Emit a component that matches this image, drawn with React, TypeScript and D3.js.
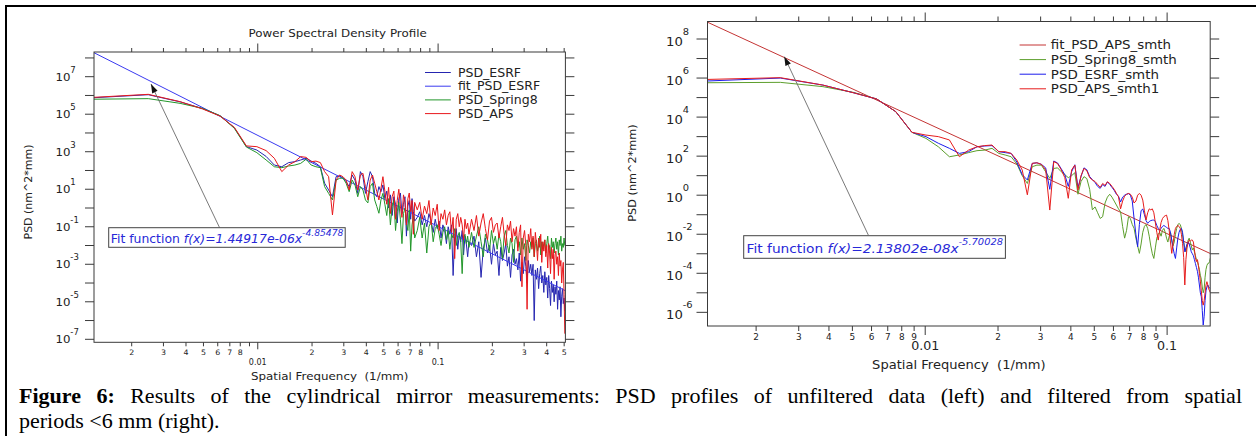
import React, { useMemo } from 'react';
import * as d3 from 'd3';

const SANS = "'DejaVu Sans', Verdana, sans-serif";
const SERIF = "'Liberation Serif', 'Times New Roman', serif";

// ---------------- DATA ----------------
// Left panel: frequency grid index k (f = k * LEFT_DF), values are log10(PSD)
const LEFT_DF = 0.001236;
const LEFT_K = [...d3.range(1, 61), ...d3.range(62, 121, 2), ...d3.range(124, 409, 4)];

const LEFT_ESRF_LOG = [
  5.88, 6.04, 5.66, 5.30, 4.92, 4.28, 3.27, 3.09, 2.75, 2.29,
  2.20, 2.42, 2.47, 2.56, 2.65, 2.50, 2.38, 2.20, 1.32, 0.96,
  0.60, 1.67, 1.71, 1.60, 1.40, 1.14, 1.76, 1.49, 0.78, 1.94,
  1.67, 0.78, 1.40, 1.94, 1.67, 0.78, 0.60, 1.14, 0.87, 1.23,
  0.5, 0.9, 0.0, 0.7, -0.4, 0.6, 0.2, -0.8, 0.5, 0.8,
  -0.3, 0.2, 0.6, -1.5, 0.1, 0.4, -0.6, 0.5, -0.2, -0.7,
  -0.5, -0.2, -0.9, -0.4, -1.0, -0.3, -0.7, -1.3, -0.6, -1.1, -0.7, -1.6, -0.9, -1.2, -1.9,
  -1.0, -1.4, -0.9, -3.6, -1.5, -1.1, -2.2, -1.4, -1.8, -1.2, -2.5, -1.5, -1.9, -2.6, -1.8,
  -2.0, -1.5, -2.6, -1.8, -3.7, -2.2, -1.6, -2.4, -2.0, -3.0, -1.9, -2.5,
  -2.3, -3.6, -2.1, -2.8, -2.4, -1.9, -3.1, -2.6, -3.7, -2.5, -2.2, -3.0,
  -2.7, -3.3, -2.4, -3.9, -2.9, -3.5, -2.6, -3.1, -4.0, -2.8, -3.4, -3.0,
  -3.6, -3.0, -6.0, -3.3, -3.8, -3.2, -4.3, -3.5, -3.1, -4.0, -3.6, -4.5,
  -3.4, -4.1, -3.7, -4.8, -3.6, -4.3, -5.2, -3.9, -4.5, -4.1, -5.0, -4.2,
  -4.6, -3.9, -5.4, -4.4, -4.9, -4.2, -5.8, -4.7, -4.3, -5.1, -4.8, -5.5,
];

const LEFT_SPRING8_LOG = [
  5.80, 5.83, 5.58, 5.31, 4.92, 4.25, 3.25, 2.95, 2.56, 2.20,
  2.15, 2.24, 2.29, 2.38, 2.60, 2.29, 2.20, 2.15, 1.14, 0.78,
  0.43, 1.49, 1.58, 1.60, 1.32, 0.87, 1.49, 1.23, 0.60, 1.14,
  0.96, 0.43, 0.27, 1.14, 1.32, 0.43, 0.08, -0.28, 0.43, 0.78,
  0.2, -0.4, 0.5, -0.9, 0.1, 0.4, -1.2, -0.2, 0.3, -0.6,
  -1.9, -0.3, 0.0, -0.8, -1.2, -0.1, -2.3, -0.9, -0.4, -1.6,
  -1.2, -0.5, -1.6, -0.8, -2.4, -1.0, -0.7, -1.8, -1.1, -0.9, -1.4, -2.0, -1.3, -1.0, -1.7,
  -1.2, -2.2, -1.4, -1.6, -1.1, -2.0, -1.5, -1.3, -1.8, -3.5, -1.6, -1.4, -1.9, -1.5, -2.1,
  -1.3, -2.1, -1.5, -1.0, -1.8, -2.6, -1.4, -1.7, -2.3, -1.2, -1.9, -1.5,
  -2.2, -1.4, -1.8, -2.7, -1.5, -1.2, -2.0, -2.4, -1.6, -1.9, -2.9, -1.7,
  -1.5, -2.1, -1.8, -2.5, -1.6, -2.2, -1.9, -2.8, -1.7, -2.0, -2.4, -1.8,
  -2.1, -1.6, -2.6, -1.9, -1.7, -2.3, -2.0, -1.5, -2.5, -1.8, -2.2, -1.9,
  -1.7, -2.4, -1.9, -1.5, -2.2, -2.0, -2.7, -1.6, -2.1, -1.8, -2.4, -1.9,
  -1.6, -2.2, -1.8, -2.5, -1.7, -2.0, -1.5, -2.3, -1.9, -2.1, -1.6, -2.0,
];

const LEFT_APS_LOG = [
  5.90, 6.06, 5.67, 5.28, 4.90, 4.30, 3.31, 3.27, 3.06, 2.65,
  1.94, 2.29, 2.47, 2.74, 2.70, 2.47, 2.50, 2.42, 1.94, 1.67,
  -0.37, 1.49, 1.76, 1.67, 1.49, 0.96, 1.94, 1.67, 0.96, 1.76,
  1.85, 1.14, 0.43, 1.49, 1.76, 1.32, 0.87, 0.43, 1.05, 1.67,
  0.9, 0.2, 1.1, -0.3, 0.6, 0.9, -0.6, 0.4, 1.0, 0.1,
  -0.5, 0.7, 0.3, -0.9, 0.5, 0.8, -0.2, 0.4, -1.4, 0.3,
  -0.1, 0.3, -0.6, 0.1, -0.3, 0.4, -0.9, 0.0, -0.4, 0.2, -1.2, -0.3, -0.6, -0.1, -0.9,
  -0.4, -0.2, -1.3, -0.5, -2.7, -0.6, -0.3, -1.0, -0.5, -0.9, -1.7, -0.6, -1.1, -0.8, -1.4,
  -0.6, -1.2, -0.4, -1.5, -0.8, -0.3, -1.1, -1.7, -0.7, -0.5, -1.3, -0.9,
  -0.8, -1.6, -1.0, -0.5, -1.4, -2.0, -0.9, -1.2, -0.7, -1.8, -1.1, -1.5,
  -1.0, -2.3, -1.3, -0.9, -4.2, -1.6, -1.2, -2.0, -5.4, -1.4, -1.8, -1.1,
  -2.2, -1.5, -2.6, -1.3, -1.9, -2.8, -1.6, -2.1, -1.4, -2.9, -1.8, -2.3,
  -1.7, -2.6, -2.0, -3.2, -1.9, -2.4, -3.5, -2.1, -2.7, -2.2, -3.8, -2.5,
  -2.3, -3.0, -2.6, -3.6, -2.4, -3.1, -2.8, -4.0, -3.3, -2.9, -4.6, -6.7,
];

const LEFT_FIT_A = 1.44917e-6;
const LEFT_FIT_B = -4.85478;

// Right panel: f = k * RIGHT_DF, values are log10(PSD)
const RIGHT_DF = 0.001259;
const RIGHT_K = d3.range(1, 121);

const RIGHT_SPRING8_LOG = [
  5.76, 5.78, 5.56, 5.27, 4.93, 4.28, 3.22, 2.91, 2.48, 1.97,
  2.06, 2.18, 2.28, 2.31, 2.40, 2.14, 2.06, 1.97, 1.60, 1.00,
  0.60, 1.46, 1.54, 1.54, 1.20, 0.86, 1.37, 1.40, 1.20, 1.05,
  0.90, 1.00, 1.15, 0.05, 0.70, 0.95, 0.85, 0.30, -0.75, -0.60,
  -0.90, -1.19, -1.10, -0.40, -0.10, 0.05, -0.10, -0.30, -0.50, -0.70,
  -0.85, -1.60, -2.20, -1.80, -1.10, -1.20, -1.50, -1.70, -2.20, -2.60,
  -2.98, -2.50, -1.90, -1.60, -1.50, -1.70, -2.10, -2.60, -3.00, -3.24,
  -2.70, -2.20, -2.00, -1.90, -2.10, -1.80, -1.70, -1.90, -2.20, -2.40,
  -2.10, -1.90, -2.30, -2.60, -2.40, -2.00, -1.70, -1.50, -1.45, -1.50,
  -1.70, -2.00, -2.40, -2.70, -2.90, -2.60, -2.30, -2.20, -2.40, -2.60,
  -2.80, -2.70, -2.90, -3.10, -3.30, -3.40, -3.60, -3.80, -4.10, -4.30,
  -4.70, -5.00, -4.80, -4.20, -3.80, -3.60, -3.50, -3.49, -3.40, -3.20,
];

const RIGHT_ESRF_LOG = [
  5.85, 6.00, 5.64, 5.25, 4.93, 4.28, 3.22, 3.00, 2.66, 2.40,
  2.14, 2.23, 2.48, 2.52, 2.54, 2.23, 2.18, 2.14, 1.70, 1.05,
  0.78, 1.63, 1.66, 1.58, 1.40, 0.30, 1.75, 1.65, 1.35, 1.05,
  0.45, 1.20, 1.56, 0.40, 0.95, 1.40, 1.30, 0.95, 0.80, 0.65,
  0.45, 0.35, 0.55, 0.45, 0.68, 0.55, 0.40, 0.25, 0.05, -0.05,
  -0.35, -0.10, 0.00, 0.05, 0.08, 0.00, -0.30, -1.20, -2.00, -2.64,
  -1.50, -0.80, -0.70, -1.00, -1.30, -1.44, -1.35, -1.30, -1.28, -1.27,
  -1.35, -1.55, -1.70, -1.79, -1.70, -1.60, -1.55, -1.60, -1.65, -1.70,
  -1.70, -1.90, -2.30, -2.70, -3.00, -3.24, -2.70, -2.20, -1.90, -1.75,
  -1.70, -1.90, -2.40, -2.90, -2.70, -2.50, -2.40, -2.50, -2.70, -2.90,
  -3.00, -3.10, -3.30, -3.50, -3.70, -3.90, -4.20, -4.60, -5.00, -5.20,
  -5.90, -6.65, -6.20, -5.40, -4.90, -4.70, -4.60, -4.70, -4.75, -4.80,
];

const RIGHT_APS_LOG = [
  5.93, 6.02, 5.64, 5.25, 4.93, 4.28, 3.22, 3.08, 3.00, 2.83,
  1.97, 2.31, 2.48, 2.54, 2.57, 2.23, 2.23, 2.14, 1.80, 1.29,
  0.02, 1.63, 1.66, 1.58, 1.30, -0.76, 1.72, 1.62, 1.30, 0.90,
  -0.16, 1.30, 1.54, 0.26, 1.00, 1.37, 1.25, 0.90, 0.78, 0.70,
  0.55, 0.40, 0.60, 0.50, 0.69, 0.60, 0.45, 0.30, 0.10, -0.08,
  -0.70, -0.30, -0.05, 0.05, 0.09, 0.05, -0.10, -0.40, -0.30, 0.00,
  0.09, 0.00, -0.25, -0.80, -1.27, -0.90, -0.70, -0.75, -0.70, -0.90,
  -1.40, -1.90, -2.30, -1.80, -1.40, -1.20, -1.10, -1.05, -1.02, -1.30,
  -1.80, -2.40, -2.98, -2.50, -2.00, -1.70, -1.60, -1.55, -1.60, -1.70,
  -2.00, -2.47, -3.20, -4.60, -3.30, -2.70, -2.40, -2.30, -2.35, -2.30,
  -2.30, -2.40, -2.80, -3.20, -3.40, -3.30, -3.60, -4.00, -4.40, -4.90,
  -5.40, -5.63, -5.40, -5.00, -4.60, -4.43, -4.60, -4.80, -4.90, -5.00,
];

const RIGHT_FIT_A = 2.13802e-8;
const RIGHT_FIT_B = -5.70028;

const LEFT_LEGEND = ['PSD_ESRF', 'fit_PSD_ESRF', 'PSD_Spring8', 'PSD_APS'];
const RIGHT_LEGEND = ['fit_PSD_APS_smth', 'PSD_Spring8_smth', 'PSD_ESRF_smth', 'PSD_APS_smth1'];

const LEFT_TITLE = 'Power Spectral Density Profile';
const X_TITLE = 'Spatial Frequency  (1/mm)';
const Y_TITLE = 'PSD (nm^2*mm)';
const LEFT_FIT_TEXT = ['Fit function ', 'f(x)=1.44917e-06x', '-4.85478'];
const RIGHT_FIT_TEXT = ['Fit function ', 'f(x)=2.13802e-08x', '-5.70028'];

const CAPTION_BOLD = 'Figure 6:';
const CAPTION_LINE1 = 'Results of the cylindrical mirror measurements: PSD profiles of unfiltered data (left) and filtered from spatial';
const CAPTION_LINE2 = 'periods <6 mm (right).';

// ---------------- helpers ----------------
function Txt({ x, y, fs, sx = 1, anchor = 'start', fill = '#222', family = SANS, rotate = 0, weight = 'normal', italic = false, children }: any) {
  const tr = `translate(${x},${y})` + (rotate ? ` rotate(${rotate})` : '') + (sx !== 1 ? ` scale(${sx},1)` : '');
  return (
    <text transform={tr} fontSize={fs} textAnchor={anchor} fill={fill} fontFamily={family}
      fontWeight={weight} fontStyle={italic ? 'italic' : 'normal'} style={{ whiteSpace: 'pre' }}>
      {children}
    </text>
  );
}

function arrowHead(tx: number, ty: number, hx: number, hy: number, len = 9, half = 3) {
  const dx = hx - tx, dy = hy - ty;
  const L = Math.hypot(dx, dy);
  const ux = dx / L, uy = dy / L;
  const nx = -uy, ny = ux;
  const bx = hx - ux * len, by = hy - uy * len;
  return `${hx},${hy} ${bx + nx * half},${by + ny * half} ${bx - nx * half},${by - ny * half}`;
}

function LogChart({ c }: any) {
  const x = d3.scaleLog().domain(c.xDom).range([c.x0, c.x1]);
  const y = d3.scaleLog().domain(c.yDom).range([c.y1, c.y0]);
  const line = d3.line<[number, number]>().x(d => x(d[0])).y(d => y(d[1]));

  const xTicks: any[] = [];
  for (let e = -3; e <= 0; e++) {
    for (let m = 1; m <= 9; m++) {
      const v = m * Math.pow(10, e);
      if (v >= c.xDom[0] * 0.999 && v <= c.xDom[1] * 1.001) xTicks.push({ v, m, e });
    }
  }
  const yTicks: number[] = [];
  for (let e = Math.ceil(Math.log10(c.yDom[0])); e <= Math.floor(Math.log10(c.yDom[1])); e++) yTicks.push(e);

  const clipId = 'clip-' + c.id;
  const tk = c.tick;
  const axisColor = '#3a3a3a';

  return (
    <g>
      <defs>
        <clipPath id={clipId}>
          <rect x={c.x0} y={c.y0} width={c.x1 - c.x0} height={c.y1 - c.y0} />
        </clipPath>
      </defs>

      <g clipPath={`url(#${clipId})`}>
        {c.traces.map((t: any, i: number) => {
          let pts: [number, number][];
          if (t.fit) {
            pts = [c.xDom[0], c.xDom[1]].map(f => [f, t.fit.a * Math.pow(f, t.fit.b)] as [number, number]);
          } else {
            pts = t.k.map((k: number, j: number) => [k * t.df, Math.pow(10, t.logv[j])] as [number, number]);
          }
          return <path key={i} d={line(pts) || ''} fill="none" stroke={t.color} strokeWidth={1} strokeLinejoin="round" />;
        })}
      </g>

      <rect x={c.x0} y={c.y0} width={c.x1 - c.x0} height={c.y1 - c.y0} fill="none" stroke={axisColor} strokeWidth={1} />

      {xTicks.map((t, i) => {
        const px = x(t.v);
        const major = t.m === 1;
        return (
          <g key={'xt' + i}>
            <line x1={px} x2={px} y1={c.y1} y2={c.y1 + (major ? tk.bMaj : tk.bMin)} stroke={axisColor} />
            <line x1={px} x2={px} y1={c.y0} y2={c.y0 - (major ? tk.tMaj : tk.tMin)} stroke={axisColor} />
            {!major && t.m <= c.minorMax && (
              <Txt x={px} y={c.minorY} fs={c.minorFs} sx={c.minorSx} anchor="middle">{String(t.m)}</Txt>
            )}
            {major && (
              <Txt x={px} y={c.majorY} fs={c.majorFs} sx={c.majorSx} anchor="middle">{t.e === -2 ? '0.01' : t.e === -1 ? '0.1' : String(t.v)}</Txt>
            )}
          </g>
        );
      })}

      {yTicks.map(e => {
        const py = y(Math.pow(10, e));
        const labeled = ((e % 2) + 2) % 2 === c.labelParity;
        return (
          <g key={'yt' + e}>
            <line x1={c.x0} x2={c.x0 - tk.l} y1={py} y2={py} stroke={axisColor} />
            <line x1={c.x1} x2={c.x1 + tk.r} y1={py} y2={py} stroke={axisColor} />
            {labeled && (
              <Txt x={c.yLabX} y={py + c.yLabDy} fs={c.yLabFs} sx={c.yLabSx}>
                <tspan>10</tspan>
                <tspan dy={c.supDy} fontSize={c.supFs}>{e < 0 ? '-' + Math.abs(e) : String(e)}</tspan>
              </Txt>
            )}
          </g>
        );
      })}

      <Txt x={c.xTitleX} y={c.xTitleY} fs={c.xTitleFs} sx={c.xTitleSx} anchor="middle">{X_TITLE}</Txt>
      <Txt x={c.yTitleX} y={c.yTitleY} fs={c.yTitleFs} anchor="middle" rotate={-90}>{Y_TITLE}</Txt>
      {c.title && <Txt x={c.titleX} y={c.titleY} fs={c.titleFs} sx={c.titleSx} anchor="middle">{c.title}</Txt>}

      {c.legend.map((name: string, i: number) => {
        const ly = c.legY + i * c.legDy;
        return (
          <g key={'lg' + i}>
            <line x1={c.legX1} x2={c.legX2} y1={ly} y2={ly} stroke={c.legColors[i]} strokeWidth={1} />
            <Txt x={c.legTx} y={ly + c.legFs * 0.36} fs={c.legFs} sx={c.legSx}>{name}</Txt>
          </g>
        );
      })}

      <line x1={c.arrow[0]} y1={c.arrow[1]} x2={c.arrow[2]} y2={c.arrow[3]} stroke="#6a6a6a" strokeWidth={0.9} />
      <polygon points={arrowHead(c.arrow[0], c.arrow[1], c.arrow[2], c.arrow[3])} fill="#111" />

      <rect x={c.box[0]} y={c.box[1]} width={c.box[2]} height={c.box[3]} fill="#fff" stroke="#444" strokeWidth={1} />
      <Txt x={c.boxTx} y={c.boxTy} fs={c.boxFs} sx={c.boxSx} fill="#2828d8">
        <tspan>{c.fitText[0]}</tspan>
        <tspan fontStyle="italic">{c.fitText[1]}</tspan>
        <tspan fontStyle="italic" fontSize={c.boxSupFs} dy={c.boxSupDy}>{c.fitText[2]}</tspan>
      </Txt>
    </g>
  );
}

const CAP_FS = 22;
const CAP_X0 = 19;
const CAP_X1 = 1242;
const CAP_Y1 = 402.5;
const CAP_Y2 = 427.5;

function Caption() {
  const layout = useMemo(() => {
    const ctx = document.createElement('canvas').getContext('2d') as CanvasRenderingContext2D;
    const words = [
      ...CAPTION_BOLD.split(' ').map(w => ({ w, bold: true })),
      ...CAPTION_LINE1.split(' ').map(w => ({ w, bold: false })),
    ];
    const widths = words.map(o => {
      ctx.font = `${o.bold ? 'bold ' : ''}${CAP_FS}px "Liberation Serif"`;
      return ctx.measureText(o.w).width;
    });
    const total = widths.reduce((a, b) => a + b, 0);
    const gap = (CAP_X1 - CAP_X0 - total) / (words.length - 1);
    let xp = CAP_X0;
    return words.map((o, i) => {
      const r = { ...o, x: xp };
      xp += widths[i] + gap;
      return r;
    });
  }, []);
  return (
    <g fontFamily={SERIF} fontSize={CAP_FS} fill="#000">
      {layout.map((o, i) => (
        <text key={i} x={o.x} y={CAP_Y1} fontWeight={o.bold ? 'bold' : 'normal'}>{o.w}</text>
      ))}
      <text x={CAP_X0} y={CAP_Y2}>{CAPTION_LINE2}</text>
    </g>
  );
}

export default function App() {
  const left = {
    id: 'L',
    x0: 94, x1: 565.4, y0: 52, y1: 342.3,
    xDom: [LEFT_DF, 0.508], yDom: [Math.pow(10, -7.16), Math.pow(10, 8.317)],
    traces: [
      { color: '#2525b0', k: LEFT_K, df: LEFT_DF, logv: LEFT_ESRF_LOG },
      { color: '#3a3af0', fit: { a: LEFT_FIT_A, b: LEFT_FIT_B } },
      { color: '#22962a', k: LEFT_K, df: LEFT_DF, logv: LEFT_SPRING8_LOG },
      { color: '#e8181c', k: LEFT_K, df: LEFT_DF, logv: LEFT_APS_LOG },
    ],
    tick: { l: 9, r: 9, bMaj: 7, bMin: 4, tMaj: 8.5, tMin: 4 },
    minorMax: 8, minorY: 355, minorFs: 7.5, minorSx: 1.05,
    majorY: 364.5, majorFs: 8, majorSx: 1.0,
    labelParity: 1, yLabX: 55.4, yLabDy: 4, yLabFs: 11, yLabSx: 1.07, supFs: 8, supDy: -8,
    xTitleX: 329.7, xTitleY: 380, xTitleFs: 11, xTitleSx: 1.08,
    yTitleX: 31.5, yTitleY: 192, yTitleFs: 11,
    title: LEFT_TITLE, titleX: 337.7, titleY: 37, titleFs: 11, titleSx: 1.08,
    legend: LEFT_LEGEND, legColors: ['#2525b0', '#3a3af0', '#22962a', '#e8181c'],
    legX1: 425, legX2: 450.8, legTx: 457.9, legY: 72.5, legDy: 13.7, legFs: 11.5, legSx: 1.09,
    arrow: [219.5, 227.5, 151, 84],
    box: [108.7, 227.7, 236.5, 19.6], boxTx: 110.7, boxTy: 243.3, boxFs: 11.5, boxSx: 1.08,
    boxSupFs: 8.5, boxSupDy: -7.3, fitText: LEFT_FIT_TEXT,
  };
  const right = {
    id: 'R',
    x0: 707.5, x1: 1210.2, y0: 21.5, y1: 326,
    xDom: [RIGHT_DF, 0.1507], yDom: [Math.pow(10, -6.70), Math.pow(10, 8.897)],
    traces: [
      { color: '#c43434', fit: { a: RIGHT_FIT_A, b: RIGHT_FIT_B } },
      { color: '#5c9e2c', k: RIGHT_K, df: RIGHT_DF, logv: RIGHT_SPRING8_LOG },
      { color: '#1c1cec', k: RIGHT_K, df: RIGHT_DF, logv: RIGHT_ESRF_LOG },
      { color: '#e61c1c', k: RIGHT_K, df: RIGHT_DF, logv: RIGHT_APS_LOG },
    ],
    tick: { l: 11, r: 9, bMaj: 9, bMin: 5, tMaj: 9, tMin: 5 },
    minorMax: 9, minorY: 339.5, minorFs: 8.5, minorSx: 1.05,
    majorY: 350, majorFs: 11.5, majorSx: 1.1,
    labelParity: 0, yLabX: 666, yLabDy: 7, yLabFs: 12, yLabSx: 1.1, supFs: 9, supDy: -11,
    xTitleX: 958.8, xTitleY: 369, xTitleFs: 12, xTitleSx: 1.09,
    yTitleX: 636, yTitleY: 173, yTitleFs: 11.3,
    title: null,
    legend: RIGHT_LEGEND, legColors: ['#c43434', '#5c9e2c', '#1c1cec', '#e61c1c'],
    legX1: 1019.6, legX2: 1046, legTx: 1050.8, legY: 45, legDy: 14.6, legFs: 12.2, legSx: 1.1,
    arrow: [868.3, 235, 784.3, 56.7],
    box: [743.7, 235.7, 261.7, 22.6], boxTx: 746.6, boxTy: 253.3, boxFs: 12.5, boxSx: 1.1,
    boxSupFs: 9, boxSupDy: -8.3, fitText: RIGHT_FIT_TEXT,
  };

  return (
    <svg width={1256} height={436} viewBox="0 0 1256 436"
      style={{ position: 'absolute', left: 0, top: 0, background: '#fff', display: 'block' }}>
      <rect x={0} y={0} width={1256} height={436} fill="#fff" />
      <rect x={5} y={5} width={1251} height={2} fill="#000" />
      <rect x={5} y={5} width={2} height={431} fill="#000" />
      <LogChart c={left} />
      <LogChart c={right} />
      <Caption />
    </svg>
  );
}
